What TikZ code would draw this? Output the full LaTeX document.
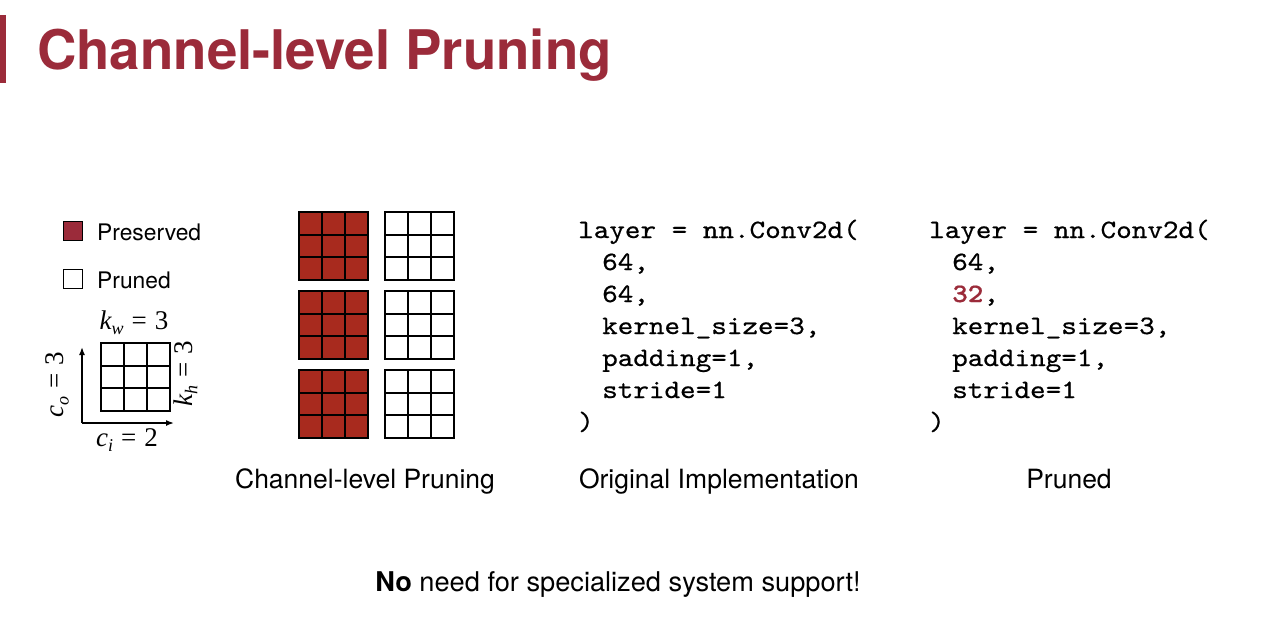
\documentclass[tikz,border=0pt]{standalone}
\usepackage{fontspec}
\setmainfont{TeX Gyre Heros}
\newfontfamily\codefont[FakeStretch=1.12, FakeBold=0.6, BoldFont=lmmonolt10-bold.otf, BoldFeatures={FakeStretch=1.12}]{lmmono10-regular.otf}
\newfontfamily\dimfont{Liberation Serif}
\usetikzlibrary{arrows.meta}
\definecolor{maroon}{HTML}{9B2B3A}
\definecolor{brick}{HTML}{A82A1E}
% italic symbol with italic subscript, then "= value"
\newcommand\dimlab[3]{{\dimfont\itshape #1}\raisebox{-0.2em}{\dimfont\itshape\fontsize{18}{18}\selectfont #2}{\dimfont\hspace{0.3em}=\hspace{0.3em}#3}}
\begin{document}
\begin{tikzpicture}[x=1pt,y=-1pt,
  gridline/.style={line width=2pt, draw=black},
  label/.style={inner sep=0pt, anchor=base, font=\fontsize{26.5}{26.5}\selectfont},
  legendtext/.style={inner sep=0pt, anchor=base west, font=\fontsize{22.8}{22.8}\selectfont},
  legendbox/.style={line width=1.3pt, draw=black, minimum size=19pt, inner sep=0pt},
  codeline/.style={inner sep=0pt, anchor=base west, font=\codefont\fontsize{26.5}{26.5}\selectfont},
  dimlabel/.style={inner sep=0pt, font=\fontsize{27}{27}\selectfont},
  pics/kgrid/.style={code={
    \draw[gridline, fill=#1] (0,0) rectangle (69,68);
    \foreach \i in {1,2} {
      \draw[gridline] (23*\i,0) -- (23*\i,68);
      \draw[gridline] (0,68*\i/3) -- (69,68*\i/3);
    }
  }}
]
\useasboundingbox[fill=white] (0,0) rectangle (1276,618);

% title with side bar
\fill[maroon] (0,15) rectangle (6,83);
\node[inner sep=0pt, anchor=base west, text=maroon,
      font=\fontsize{54.6}{54.6}\selectfont\bfseries] (title) at (37,70) {Channel-level Pruning};

% legend
\node[legendbox, fill=maroon] (keep) at (73,231) {};
\node[legendtext] (keeptxt) at (97,240) {Preserved};
\node[legendbox, fill=white] (cut) at (73,279) {};
\node[legendtext] (cuttxt) at (97,288) {Pruned};

% kernel shape sketch
\pic (kernel) at (101,343) {kgrid=white};
\coordinate (axo) at (82,423);
\coordinate (axup) at (82,347);
\coordinate (axright) at (174,423);
\draw[line width=1.5pt, -{Latex[length=8pt,width=6pt]}] (axo) -- (axup);
\draw[line width=1.5pt, -{Latex[length=8pt,width=6pt]}] (axo) -- (axright);
\node[dimlabel, anchor=base] (kw) at (134,329) {\dimlab{k}{w}{3}};
\node[dimlabel, anchor=base] (ci) at (127,446) {\dimlab{c}{i}{2}};
\node[dimlabel, rotate=90] (co) at (57,385) {\dimlab{c}{o}{3}};
\node[dimlabel, rotate=90, anchor=base] (kh) at (192,374) {\dimlab{k}{h}{3}};

% channel-level pruning: kept channels (red) and pruned ones (white)
\foreach \r/\y in {1/212, 2/291, 3/370} {
  \pic (keep\r) at (299,\y) {kgrid=brick};
  \pic (drop\r) at (385,\y) {kgrid=white};
}

% original convolution
\node[codeline] (oa) at (578,238) {layer = nn.Conv2d(};
\node[codeline] (ob) at (602,270) {64,};
\node[codeline] (oc) at (602,302) {64,};
\node[codeline] (od) at (602,334) {kernel\_size=3,};
\node[codeline] (oe) at (602,366) {padding=1,};
\node[codeline] (of) at (602,398) {stride=1};
\node[codeline] (og) at (578,430) {)};

% pruned convolution
\node[codeline] (pa) at (929,238) {layer = nn.Conv2d(};
\node[codeline] (pb) at (952,270) {64,};
\node[codeline] (pc) at (952,302) {\textcolor{maroon}{\bfseries 32},};
\node[codeline] (pd) at (952,334) {kernel\_size=3,};
\node[codeline] (pe) at (952,366) {padding=1,};
\node[codeline] (pf) at (952,398) {stride=1};
\node[codeline] (pg) at (929,430) {)};

% captions
\node[label] (cap1) at (365,488) {Channel-level Pruning};
\node[label] (cap2) at (719,488) {Original Implementation};
\node[label] (cap3) at (1069,488) {Pruned};

\node[label, font=\fontsize{27.2}{27.2}\selectfont] (note) at (618,591) {\textbf{No} need for specialized system support!};
\end{tikzpicture}
\end{document}
